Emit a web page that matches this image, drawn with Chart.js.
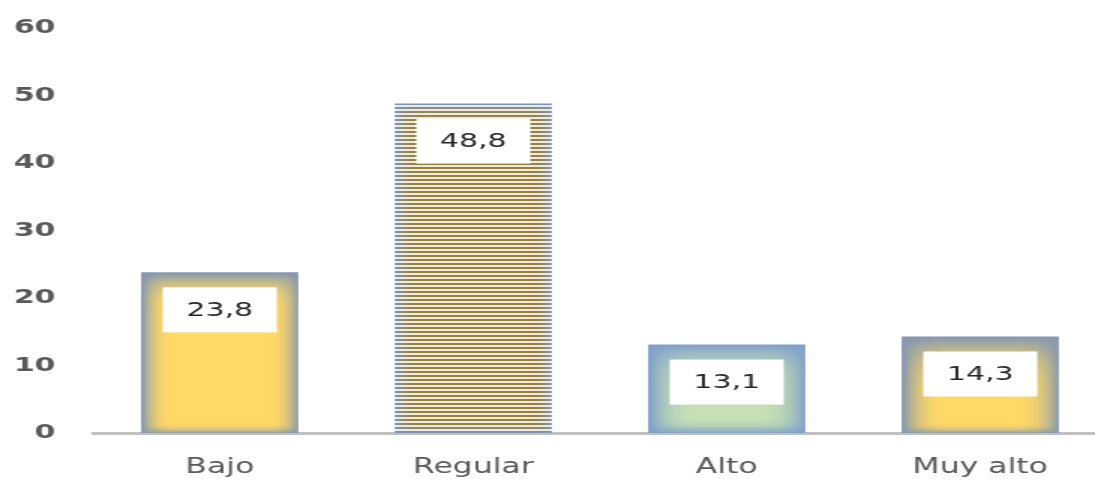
<!DOCTYPE html>
<html>
<head>
<meta charset="utf-8">
<script src="https://cdn.jsdelivr.net/npm/chart.js@4.4.0/dist/chart.umd.min.js"></script>
<style>
    html, body { margin: 0; padding: 0; background: #fff; }
    #wrap { width: 1095px; height: 483px; overflow: hidden; }
</style>
</head>
<body>
<div id="wrap">
    <canvas id="chart" width="740" height="483" style="display:block;width:1110px;height:483px"></canvas>
</div>
<script>
// data
var categories = ['Bajo', 'Regular', 'Alto', 'Muy alto'];
var values = [23.8, 48.8, 13.1, 14.3];
var yMin = 0, yMax = 60, yStep = 10;

// the reference is stretched sideways, canvas is drawn narrow then widened by css
var STRETCH = 1.5;

// fill looks per bar: center colour, edge colour, blend bands (css px), stripes
var fills = [
    { center: [255, 217, 102], edge: [132, 151, 176], side: 32, top: 38, bottom: 12, stripes: false },
    { center: [156, 128, 48], edge: [125, 150, 194], side: 26, top: 20, bottom: 14, stripes: true },
    { center: [197, 224, 180], edge: [127, 159, 203], side: 50, top: 44, bottom: 18, stripes: false },
    { center: [255, 217, 102], edge: [132, 151, 176], side: 46, top: 60, bottom: 12, stripes: false }
];

var patternCache = {};

function barFill(context) {
    var chart = context.chart;
    if (!chart.chartArea || context.type !== 'data') return '#ffd966';
    var i = context.dataIndex;
    var xs = chart.scales.x, ys = chart.scales.y;
    var cx = xs.getPixelForValue(i);
    var w = xs.width / categories.length * 0.62;
    var top = ys.getPixelForValue(values[i]);
    var base = ys.getPixelForValue(0);
    var key = i + ':' + Math.round(cx) + ':' + Math.round(top) + ':' + chart.width;
    if (patternCache[key]) return patternCache[key];

    var off = document.createElement('canvas');
    off.width = chart.width;
    off.height = chart.height;
    var octx = off.getContext('2d');
    var x0 = Math.floor(cx - w / 2) - 1, x1 = Math.ceil(cx + w / 2) + 1;
    var y0 = Math.floor(top) - 1, y1 = Math.ceil(base) + 1;
    var img = octx.createImageData(x1 - x0, y1 - y0);
    var f = fills[i];
    function band(d, size) {
        var t = Math.min(Math.max(1 - d / size, 0), 1);
        return Math.pow(t, 2.5);
    }
    for (var py = y0; py < y1; py++) {
        for (var px = x0; px < x1; px++) {
            var dl = (px - (cx - w / 2)) * STRETCH;
            var dr = ((cx + w / 2) - px) * STRETCH;
            var dt = py - top;
            var db = base - py;
            // soft corners: combine the four edge bands
            var keep = (1 - band(dl, f.side)) * (1 - band(dr, f.side)) *
                       (1 - band(dt, f.top)) * (1 - band(db, f.bottom));
            var t = 1 - keep;
            var c = [
                f.center[0] + (f.edge[0] - f.center[0]) * t,
                f.center[1] + (f.edge[1] - f.center[1]) * t,
                f.center[2] + (f.edge[2] - f.center[2]) * t
            ];
            if (f.stripes && ((py - Math.floor(top)) % 4) >= 2) {
                c = [234, 234, 230];
            }
            var k = ((py - y0) * (x1 - x0) + (px - x0)) * 4;
            img.data[k] = c[0];
            img.data[k + 1] = c[1];
            img.data[k + 2] = c[2];
            img.data[k + 3] = 255;
        }
    }
    octx.putImageData(img, x0, y0);
    var pat = chart.ctx.createPattern(off, 'no-repeat');
    patternCache[key] = pat;
    return pat;
}

// white boxes with the values, like the office data labels
var valueBoxes = {
    id: 'valueBoxes',
    afterDatasetsDraw: function (chart) {
        var ctx = chart.ctx;
        var meta = chart.getDatasetMeta(0);
        ctx.save();
        meta.data.forEach(function (bar, i) {
            var bw = 76, bh = 45;
            var bx = bar.x - bw / 2;
            var by = bar.y + 15;
            ctx.fillStyle = '#ffffff';
            ctx.fillRect(bx, by, bw, bh);
            ctx.fillStyle = '#262626';
            ctx.font = '20px "DejaVu Sans"';
            ctx.textAlign = 'center';
            ctx.textBaseline = 'middle';
            ctx.fillText(values[i].toFixed(1).replace('.', ','), bar.x, by + bh / 2 + 1);
        });
        ctx.restore();
    }
};

new Chart(document.getElementById('chart').getContext('2d'), {
    type: 'bar',
    data: {
        labels: categories,
        datasets: [{
            data: values,
            backgroundColor: barFill,
            borderWidth: 0,
            barPercentage: 0.62,
            categoryPercentage: 1
        }]
    },
    options: {
        responsive: false,
        animation: false,
        events: [],
        layout: { padding: { top: 28, right: 2, left: 0, bottom: 0 } },
        plugins: {
            legend: { display: false },
            tooltip: { enabled: false }
        },
        scales: {
            x: {
                grid: { display: false, drawTicks: false },
                border: { display: true, color: '#c0c0c0', width: 3 },
                ticks: {
                    color: '#595959',
                    font: { family: 'DejaVu Sans', size: 21 },
                    padding: 22,
                    maxRotation: 0
                },
                afterFit: function (scale) { scale.height = 50; }
            },
            y: {
                min: yMin,
                max: yMax,
                grid: { display: false, drawTicks: false },
                border: { display: false },
                ticks: {
                    stepSize: yStep,
                    color: '#595959',
                    font: { family: 'DejaVu Sans', size: 20, weight: 'bold' },
                    padding: 25
                },
                afterFit: function (scale) {
                    scale.width = 62;
                    // tick padding would otherwise push the plot down
                    scale.paddingTop = 0;
                    scale.paddingBottom = 0;
                }
            }
        }
    },
    plugins: [valueBoxes]
});
</script>
</body>
</html>
